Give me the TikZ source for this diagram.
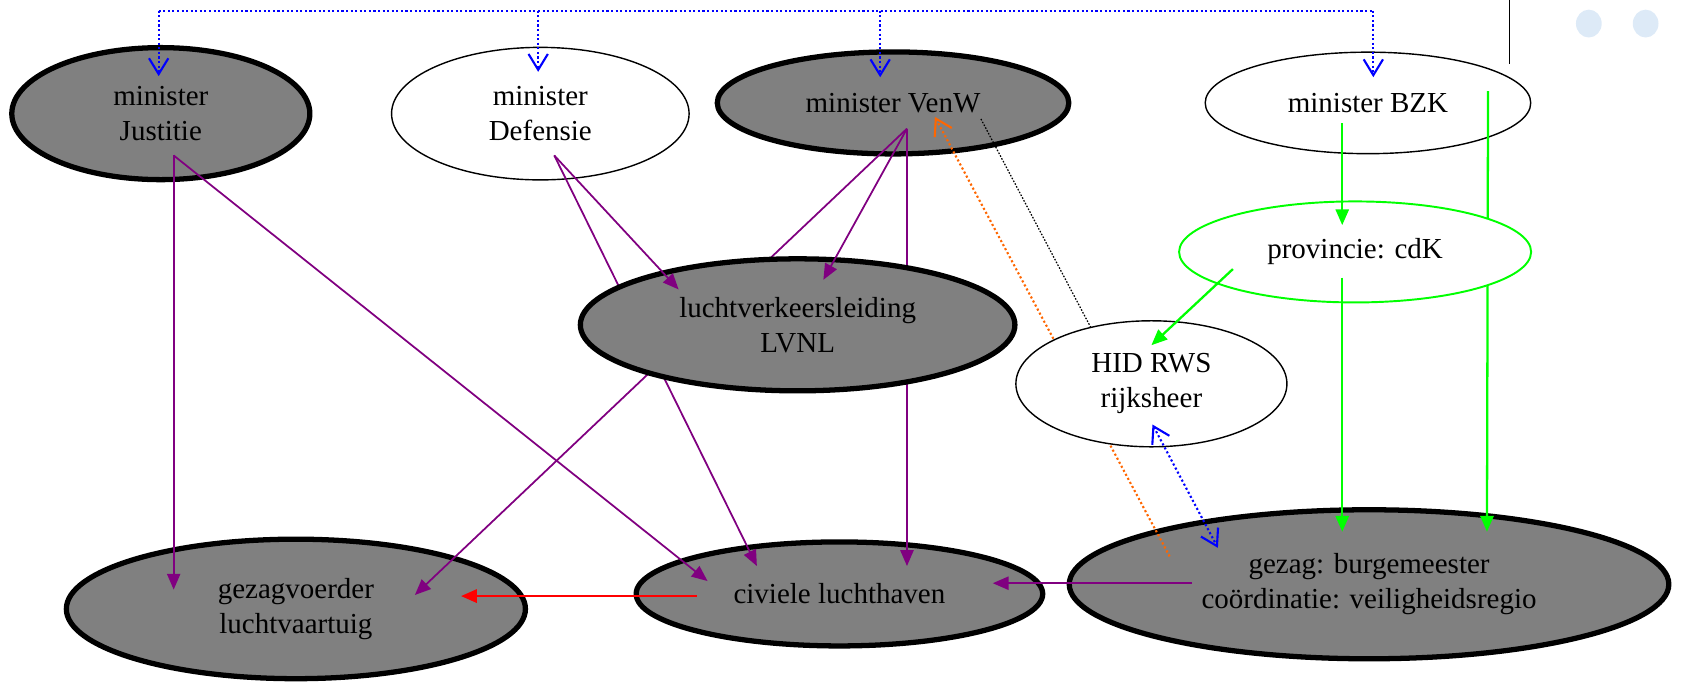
\documentclass[tikz,border=0pt]{standalone}
\usepackage{fontspec}
\setmainfont{Liberation Serif}
\usetikzlibrary{arrows.meta,shapes.geometric}

\definecolor{lijnpaars}{RGB}{128,0,128}
\definecolor{lijnoranje}{RGB}{255,102,0}
\definecolor{bolblauw}{RGB}{221,234,247}

\tikzset{
  orgbox/.style={ellipse, draw, line width=0.8pt, fill=white, inner sep=0pt,
    align=center, font=\fontsize{16.5}{20}\selectfont},
  keybox/.style={orgbox, fill=gray, line width=3pt},
  provbox/.style={orgbox, draw=green, line width=1.1pt},
  kop/.style={-{Triangle[length=9pt,width=7.5pt]}},
  open/.style={-{Straight Barb[length=9pt,width=11pt,line width=1.2pt]}},
  gezagpijl/.style={draw=lijnpaars, line width=1pt, kop},
  groen/.style={draw=green, line width=1.3pt, kop},
  stip/.style={line width=1.2pt, dash pattern=on 1.2pt off 1.4pt},
  meldlijn/.style={stip, draw=blue},
}

\begin{document}
\begin{tikzpicture}[x=0.02144cm, y=-0.02144cm]
\useasboundingbox (0,0) rectangle (1568,639);

    % Knooppunten onderlaag
    \node[keybox, minimum width=5.96cm, minimum height=2.64cm] (jus) at (150,106) {minister\\Justitie};
    \node[orgbox, minimum width=5.95cm, minimum height=2.65cm] (def) at (504,106) {minister\\Defensie};
    \node[keybox, minimum width=7.03cm, minimum height=2.04cm] (venw) at (833,96) {minister VenW};
    \node[orgbox, minimum width=6.51cm, minimum height=2.03cm] (bzk) at (1276,96) {minister BZK};
    \node[keybox, minimum width=9.18cm, minimum height=2.79cm] (gez) at (276,568) {gezagvoerder\\luchtvaartuig};
    \node[keybox, minimum width=8.13cm, minimum height=2.08cm] (civ) at (783,554) {civiele luchthaven};
    \node[keybox, minimum width=11.99cm, minimum height=2.98cm] (burg) at (1277,545) {gezag: burgemeester\\co\"ordinatie: veiligheidsregio};

    % Aanhechtpunten
    \coordinate (jus-o) at (162,145);
    \coordinate (def-o) at (517,145);
    \coordinate (venw-o) at (846,120);
    \coordinate (venw-i) at (872,109);
    \coordinate (venw-z) at (915,111);
    \coordinate (bzk-o1) at (1252,115);
    \coordinate (bzk-o2) at (1388,85);
    \coordinate (prov-i) at (1252,210);
    \coordinate (prov-o1) at (1150,251);
    \coordinate (prov-o2) at (1252,259);
    \coordinate (lvnl-i1) at (633,270);
    \coordinate (lvnl-i2) at (768,261);
    \coordinate (hid-i) at (1074,322);
    \coordinate (hid-r) at (1075,396);
    \coordinate (hid-z) at (1023,316);
    \coordinate (gez-i1) at (162,550);
    \coordinate (gez-i2) at (387,555);
    \coordinate (gez-i3) at (430,556);
    \coordinate (civ-i1) at (660,542);
    \coordinate (civ-i2) at (706,528);
    \coordinate (civ-i3) at (846,528);
    \coordinate (civ-i4) at (926,544);
    \coordinate (civ-o) at (650,556);
    \coordinate (burg-o1) at (1112,544);
    \coordinate (burg-o2) at (1091,519);
    \coordinate (burg-r) at (1136,511);
    \coordinate (burg-i1) at (1252,496);
    \coordinate (burg-i2) at (1387,496);

    % Lijnen achter de tussenliggende ellipsen
    \draw[gezagpijl] (def-o) -- (civ-i2);
    \draw[gezagpijl] (venw-o) -- (gez-i2);
    \draw[gezagpijl] (venw-o) -- (civ-i3);
    \draw[groen] (bzk-o2) -- (burg-i2);
    \draw[stip, draw=lijnoranje, open] (burg-o2) -- (venw-i);
    \draw[draw=black, line width=0.7pt, dash pattern=on 0.9pt off 0.9pt] (venw-z) -- (hid-z);

    % Knooppunten bovenlaag
    \node[keybox, minimum width=8.69cm, minimum height=2.64cm] (lvnl) at (744,303) {luchtverkeersleiding\\LVNL};
    \node[provbox, minimum width=7.04cm, minimum height=2.02cm] (prov) at (1264,235) {provincie: cdK};
    \node[orgbox, minimum width=5.42cm, minimum height=2.52cm] (hid) at (1074,358) {HID RWS\\rijksheer};

    % Gezagslijnen
    \draw[gezagpijl] (jus-o) -- (gez-i1);
    \draw[gezagpijl] (jus-o) -- (civ-i1);
    \draw[gezagpijl] (def-o) -- (lvnl-i1);
    \draw[gezagpijl] (venw-o) -- (lvnl-i2);
    \draw[gezagpijl] (burg-o1) -- (civ-i4);
    \draw[draw=red, line width=1.4pt, kop] (civ-o) -- (gez-i3);

    % Binnenlands bestuur
    \draw[groen] (bzk-o1) -- (prov-i);
    \draw[groen] (prov-o1) -- (hid-i);
    \draw[groen] (prov-o2) -- (burg-i1);

    % Melding
    \draw[meldlijn, {Straight Barb[length=9pt,width=11pt,line width=1.2pt]}-{Straight Barb[length=9pt,width=11pt,line width=1.2pt]}] (hid-r) -- (burg-r);
    \coordinate (top1) at (148,10);
    \coordinate (top2) at (502,10);
    \coordinate (top3) at (821,10);
    \coordinate (top4) at (1281,10);
    \draw[meldlijn] (top1) -- (top4);
    \draw[meldlijn, open] (top1) -- (148,71);
    \draw[meldlijn, open] (top2) -- (502,67);
    \draw[meldlijn, open] (top3) -- (821,72);
    \draw[meldlijn, open] (top4) -- (1281,72);

    % Rand rechtsboven
    \draw[line width=1pt] (1408,0) -- (1408,60);
    \fill[bolblauw] (1482,22) ellipse (12 and 13);
    \fill[bolblauw] (1535,22) ellipse (12 and 13);

\end{tikzpicture}
\end{document}
